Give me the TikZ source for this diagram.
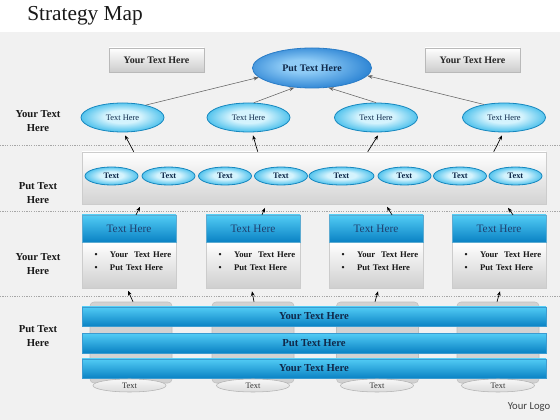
\documentclass[tikz,border=0pt]{standalone}
\usepackage{fontspec}
\setmainfont{Liberation Serif}
\newfontfamily\logofont{Carlito}
\usetikzlibrary{shapes.geometric,shadows,calc,arrows.meta}
\definecolor{bgpanel}{HTML}{F1F1F1}
\definecolor{navy}{HTML}{10294A}
\definecolor{hdrtext}{HTML}{1F3F6E}
\definecolor{bigin}{HTML}{8ECBF6}
\definecolor{bigout}{HTML}{1C78CE}
\definecolor{bigbd}{HTML}{2A7CC6}
\definecolor{cyin}{HTML}{D4F3FD}
\definecolor{cyout}{HTML}{1AAEE6}
\definecolor{cybd}{HTML}{1787BE}
\definecolor{bartop}{HTML}{52CCF5}
\definecolor{barbot}{HTML}{0A82C4}
\definecolor{colgray}{HTML}{D2D2D2}
\pgfdeclareradialshading{cyrad}{\pgfpoint{0bp}{2bp}}{color(0bp)=(cyin); color(11bp)=(cyin); color(31bp)=(cyout); color(50bp)=(cyout)}
\pgfdeclareradialshading{bigrad}{\pgfpoint{-5bp}{3bp}}{color(0bp)=(bigin); color(8bp)=(bigin); color(31bp)=(bigout); color(50bp)=(bigout)}
\tikzset{
  lbl/.style={font=\fontsize{8}{10}\selectfont\bfseries, align=center, text=black!90},
  graybox/.style={draw=gray!55, top color=white, bottom color=gray!40,
    minimum width=95*0.75pt, minimum height=24*0.75pt, inner sep=0pt,
    font=\fontsize{7.5}{9}\selectfont\bfseries, text=black!85,
    drop shadow={opacity=0.25, shadow xshift=0.8pt, shadow yshift=-0.8pt}},
  bigell/.style={ellipse, draw=bigbd, line width=0.6pt, shading=bigrad,
    minimum width=119*0.75pt, minimum height=40*0.75pt, inner sep=0pt,
    font=\fontsize{7.5}{9}\selectfont\bfseries, text=navy},
  cyell/.style={ellipse, draw=cybd, line width=0.6pt, shading=cyrad,
    minimum width=83*0.75pt, minimum height=29*0.75pt, inner sep=0pt,
    font=\fontsize{6.3}{7.5}\selectfont, text=navy},
  smell/.style={ellipse, draw=cybd, line width=0.6pt, shading=cyrad,
    minimum width=53*0.75pt, minimum height=18*0.75pt, inner sep=0pt,
    font=\fontsize{6.3}{7.5}\selectfont\bfseries, text=navy},
  panel/.style={draw=gray!40, top color=white, bottom color=gray!35,
    minimum width=464*0.75pt, minimum height=52*0.75pt, inner sep=0pt,
    drop shadow={opacity=0.3, shadow xshift=1pt, shadow yshift=-1pt}},
  hdr/.style={draw=cybd!70, line width=0.3pt, top color=bartop, bottom color=barbot,
    minimum width=94*0.75pt, minimum height=27*0.75pt, inner sep=0pt,
    font=\fontsize{8.5}{10}\selectfont, text=hdrtext},
  body/.style={draw=gray!40, top color=white, bottom color=gray!38,
    minimum width=94*0.75pt, minimum height=46*0.75pt, inner sep=0pt},
  bul/.style={text width=70.5pt, inner sep=0pt, align=left,
    font=\fontsize{6.5}{9.75}\selectfont\bfseries, text=black!90},
  col/.style={draw=gray!50, fill=colgray, rounded corners=3pt,
    minimum width=82*0.75pt, minimum height=81*0.75pt, inner sep=0pt},
  bar/.style={draw=barbot!80, line width=0.3pt, top color=bartop, bottom color=barbot,
    minimum width=464*0.75pt, minimum height=19.5*0.75pt, inner sep=0pt,
    font=\fontsize{8}{9.5}\selectfont\bfseries, text=navy},
  foot/.style={ellipse, draw=gray!60, top color=gray!6, bottom color=gray!28,
    minimum width=73*0.75pt, minimum height=13*0.75pt, inner sep=0pt,
    font=\fontsize{6.3}{7.5}\selectfont, text=black!80},
  uparr/.style={draw=gray!75!black, line width=0.4pt, -{Stealth[length=4pt,width=2.8pt]}},
  blkarr/.style={draw=black, line width=0.5pt, -{Stealth[length=3.5pt,width=2.8pt]}},
  sep/.style={draw=gray!70, line width=0.5pt, dash pattern=on 0.9pt off 0.9pt}
}
\begin{document}
\begin{tikzpicture}[x=0.75pt,y=-0.75pt]
\useasboundingbox (0,0) rectangle (560,420);
\fill[white] (0,0) rectangle (560,420);
\fill[bgpanel] (0,32) rectangle (560,420);

% title
\node[anchor=base west, inner sep=0pt, font=\fontsize{16}{18}\selectfont, text=black!90] (title) at (27,21) {Strategy Map};

% separators
\draw[sep] (0,145) -- (560,145);
\draw[sep] (0,211) -- (560,211);
\draw[sep] (0,296) -- (560,296);

% left labels
\node[lbl] (L1) at (38,121) {Your Text\\Here};
\node[lbl] (L2) at (38,193) {Put Text\\Here};
\node[lbl] (L3) at (38,264) {Your Text\\Here};
\node[lbl] (L4) at (38,336) {Put Text\\Here};

% top row
\node[graybox] (g1) at (156.5,60) {Your Text Here};
\node[graybox] (g2) at (472.5,60) {Your Text Here};
\node[bigell] (top) at (312,68) {Put Text Here};

% row 1 ellipses
\node[cyell] (e1) at (122.5,117.5) {Text Here};
\node[cyell] (e2) at (248.5,117.5) {Text Here};
\node[cyell] (e3) at (376,117.5) {Text Here};
\node[cyell] (e4) at (504,117.5) {Text Here};

\draw[uparr] (e1.28) -- (top.190);
\draw[uparr] (e2.70) -- (top.228);
\draw[uparr] (e3.north) -- (top.310);
\draw[uparr] (e4.147) -- (top.-8);

% row 2 panel
\node[panel] (r2) at (314,178) {};
\node[smell] (s1) at (111.5,176) {Text};
\node[smell] (s2) at (168.5,176) {Text};
\node[smell] (s3) at (225,176) {Text};
\node[smell] (s4) at (281,176) {Text};
\node[smell, minimum width=65*0.75pt] (s5) at (341.5,176) {Text};
\node[smell] (s6) at (404.5,176) {Text};
\node[smell] (s7) at (460,176) {Text};
\node[smell] (s8) at (515.5,176) {Text};

\draw[blkarr] ($(r2.north west)+(52,0)$) -- ($(e1.south)+(2.5,3)$);
\draw[blkarr] ($(r2.north west)+(176,0)$) -- ($(e2.south)+(4.5,3)$);
\draw[blkarr] ($(r2.north west)+(286,0)$) -- ($(e3.south)+(2,3)$);
\draw[blkarr] ($(r2.north west)+(412,0)$) -- ($(e4.south)+(-2,3)$);

% row 3 boxes
\node[body] (b1) at (129,265) {};
\node[body] (b2) at (253,265) {};
\node[body] (b3) at (376,265) {};
\node[body] (b4) at (499,265) {};
\node[hdr] (h1) at (129,228.5) {Text Here};
\node[hdr] (h2) at (253,228.5) {Text Here};
\node[hdr] (h3) at (376,228.5) {Text Here};
\node[hdr] (h4) at (499,228.5) {Text Here};
\foreach \i in {1,2,3,4}{
  \node[bul] (t\i) at ($(b\i.center)+(0,-3.5)$) {\hspace*{9.5pt}\makebox[11.5pt][l]{\textbullet}Your\ \ Text Here\\ \hspace*{9.5pt}\makebox[11.5pt][l]{\textbullet}Put Text Here};
}

\draw[blkarr] ($(h1.north)+(7,0)$) -- ($(h1.north)+(11,-8)$);
\draw[blkarr] ($(h2.north)+(9,0)$) -- ($(h2.north)+(12,-7)$);
\draw[blkarr] ($(h3.north)+(16,0)$) -- ($(h3.north)+(11,-8)$);
\draw[blkarr] ($(h4.north)+(14,0)$) -- ($(h4.north)+(9,-7)$);

% bottom columns
\node[col] (c1) at (131,342.5) {};
\node[col] (c2) at (253,342.5) {};
\node[col] (c3) at (377.5,342.5) {};
\node[col] (c4) at (498,342.5) {};

\draw[blkarr] ($(c1.north)+(2,0)$) -- ($(b1.south)+(-1,2.5)$);
\draw[blkarr] ($(c2.north)+(1,0)$) -- ($(b2.south)+(-1,3)$);
\draw[blkarr] ($(c3.north)+(-2.5,0)$) -- ($(b3.south)+(2,3)$);
\draw[blkarr] ($(c4.north)+(-1,0)$) -- ($(b4.south)+(1,3)$);

\node[bar] (bar1) at (314,316.5) {Your Text Here};
\node[bar] (bar2) at (314,343) {Put Text Here};
\node[bar] (bar3) at (314,368.5) {Your Text Here};

\node[foot] (f1) at (129.5,385.5) {Text};
\node[foot] (f2) at (253,385.5) {Text};
\node[foot] (f3) at (377,385.5) {Text};
\node[foot] (f4) at (498,385.5) {Text};

\node[font=\logofont\fontsize{8}{9.5}\selectfont, text=black!75, inner sep=0pt] (logo) at (529,407) {Your Logo};
\end{tikzpicture}
\end{document}
